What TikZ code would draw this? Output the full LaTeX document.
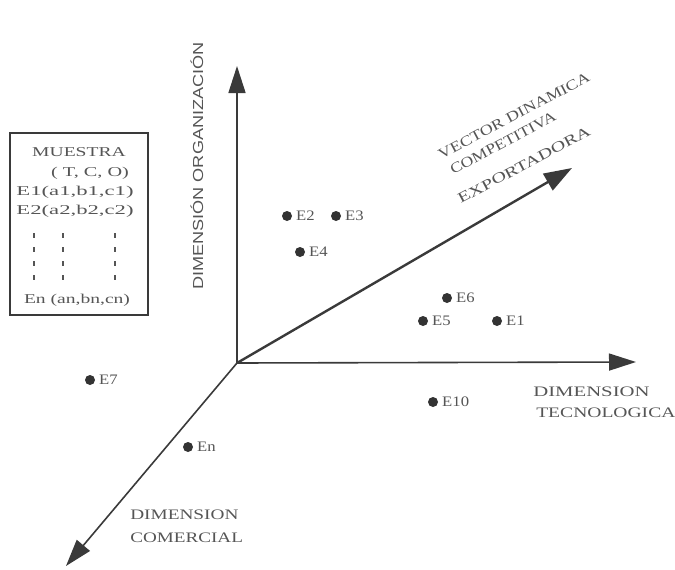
\documentclass[tikz,border=0pt]{standalone}
\usepackage{fontspec}
\setmainfont{Liberation Serif}
\newfontfamily\lsans{Liberation Sans}
\usetikzlibrary{arrows.meta}
\definecolor{axc}{HTML}{3A3A3A}
\definecolor{txc}{HTML}{555555}
\definecolor{dotc}{HTML}{333333}
\tikzset{
  lbl/.style={font=\fontsize{14.5}{16}\selectfont, text=txc, inner sep=0pt},
  ptlbl/.style={lbl, anchor=west, xscale=1.15},
  ptdot/.style={circle, fill=dotc, minimum size=10pt, inner sep=0pt},
  axis/.style={draw=axc, line width=1.6pt, -{Triangle[length=27pt,width=17pt]}},
  vec/.style={draw=axc, line width=2.4pt, -{Triangle[length=28pt,width=19pt]}},
  dimlbl/.style={font=\fontsize{14.5}{16}\selectfont, text=txc, inner sep=0pt, anchor=west},
  veclbl/.style={font=\fontsize{14.5}{16}\selectfont, text=txc, inner sep=0pt, rotate=28},
  boxtxt/.style={font=\fontsize{13.5}{15}\selectfont, text=txc, inner sep=0pt},
  vdots/.style={draw=txc, line width=1.1pt, dash pattern=on 5pt off 9pt},
}
\begin{document}
\begin{tikzpicture}[x=1pt,y=-1pt]
\useasboundingbox (0,0) rectangle (675,570);
% axes
\coordinate (O) at (237,363);
\coordinate (up) at (237,66);
\coordinate (right) at (636,362);
\coordinate (dl) at (66,566);
\coordinate (vt) at (572,168);
\draw[axis] (O) -- (up);
\draw[axis] (O) -- (right);
\draw[axis] (O) -- (dl);
\draw[vec] (O) -- (vt);
% axis labels
\node[font=\lsans\fontsize{14.5}{16}\selectfont, text=txc, inner sep=0pt, rotate=90, xscale=1.25] (lorg) at (197,166) {DIMENSIÓN ORGANIZACIÓN};
\node[dimlbl, xscale=1.43] (lt1) at (533,392) {DIMENSION};
\node[dimlbl, xscale=1.35] (lt2) at (536,413) {TECNOLOGICA};
\node[dimlbl, xscale=1.33] (lc1) at (130,515) {DIMENSION};
\node[dimlbl, xscale=1.32] (lc2) at (130,538) {COMERCIAL};
\node[veclbl, xscale=1.25] (v1) at (514,116) {VECTOR DINAMICA};
\node[veclbl, xscale=1.22] (v2) at (503,143) {COMPETITIVA};
\node[veclbl, xscale=1.4] (v3) at (524,165) {EXPORTADORA};
% box
\draw[draw=axc, line width=1.5pt] (10,133) rectangle (148,315);
\node[boxtxt, xscale=1.45] (b1) at (79,152) {MUESTRA};
\node[boxtxt, xscale=1.5] (b2) at (90,173) {( T, C, O)};
\node[boxtxt, xscale=1.68] (b3) at (75,192) {E1(a1,b1,c1)};
\node[boxtxt, xscale=1.68] (b4) at (75,211) {E2(a2,b2,c2)};
\node[boxtxt, xscale=1.45] (b5) at (77,300) {En (an,bn,cn)};
\draw[vdots] (34,233) -- (34,280);
\draw[vdots] (63,233) -- (63,280);
\draw[vdots] (115,233) -- (115,280);
% points
\foreach \n/\x/\y in {E2/287/216, E3/336/216, E4/300/252, E6/447/298, E5/423/321, E1/497/321, E10/433/402, E7/90/380, En/188/447}{
  \node[ptdot] (d\n) at (\x,\y) {};
  \node[ptlbl] (l\n) at (\x+9,\y) {\n};
}
\end{tikzpicture}
\end{document}
